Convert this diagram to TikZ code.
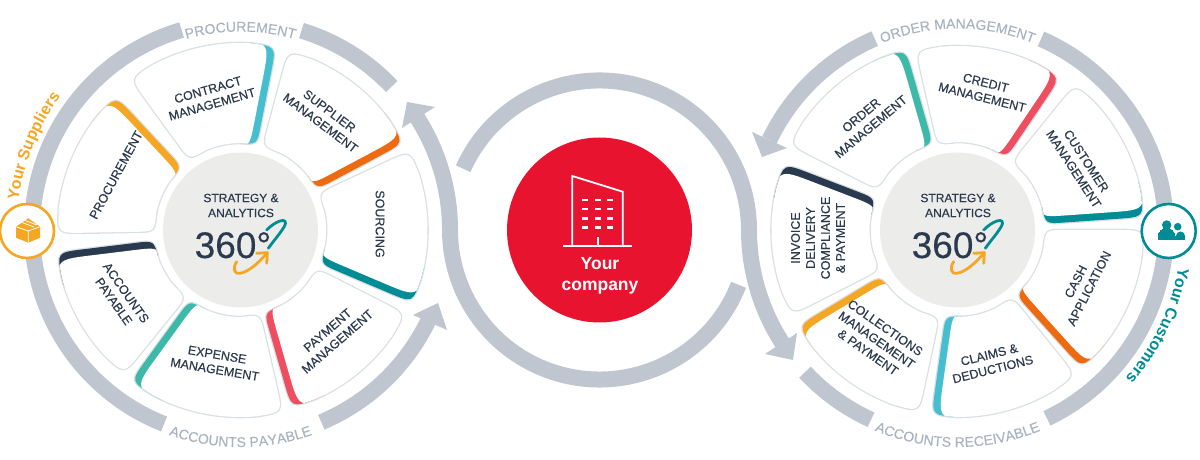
\documentclass[tikz,border=0pt]{standalone}
\usepackage{fontspec}
\setmainfont{Liberation Sans}
\newfontfamily\medf[FakeBold=0.3]{Liberation Sans}
\newfontfamily\lightf[FakeBold=0.15]{Liberation Sans}
\usetikzlibrary{decorations.text}
\definecolor{ringc}{HTML}{BFC6CF}
\definecolor{ringtext}{HTML}{A9B3BF}
\definecolor{inkc}{HTML}{2C3A4E}
\definecolor{borderc}{HTML}{D9E0E4}
\definecolor{diskc}{HTML}{ECECEA}
\definecolor{cyanc}{HTML}{45BFD0}
\definecolor{amberc}{HTML}{F5A623}
\definecolor{orangec}{HTML}{EE6A10}
\definecolor{tealc}{HTML}{008C95}
\definecolor{pinkc}{HTML}{EE4E60}
\definecolor{greenc}{HTML}{3DB9A9}
\definecolor{navyc}{HTML}{2A3A4E}
\definecolor{redc}{HTML}{E8142F}
\tikzset{
  ringarc/.style={draw=ringc,line width=16pt,line cap=butt},
  headtip/.style={fill=ringc},
  petaltext/.style={font=\medf\fontsize{12.5}{15}\selectfont,align=center,text=inkc,inner sep=0pt},
  hubtext/.style={font=\medf\fontsize{12}{15}\selectfont,align=center,text=inkc,inner sep=0pt},
  bigtext/.style={font=\medf\fontsize{37}{37}\selectfont,text=inkc,inner sep=0pt,anchor=base west},
  hubdisk/.style={circle,fill=diskc,minimum size=155pt,inner sep=0pt},
  swoosh/.style={line width=2.8pt,line cap=round,line join=round},
}
% petal outline: angles a1,a2, radii ro,ri, corner sizes #5 (outer) and #6 (inner)
\newcommand\petalpath[6]{%
  \pgfmathsetmacro\oa{#1+#5/#3*57.3}\pgfmathsetmacro\ob{#2-#5/#3*57.3}%
  \pgfmathsetmacro\ia{#1+#6/#4*57.3}\pgfmathsetmacro\ib{#2-#6/#4*57.3}%
  \pgfmathsetmacro\rp{#3-#5}\pgfmathsetmacro\rq{#4+#6}%
  \path[petalstyle] (\oa:#3) arc (\oa:\ob:#3) .. controls (#2:#3) .. (#2:\rp) -- (#2:\rq)
    .. controls (#2:#4) .. (\ib:#4) arc (\ib:\ia:#4) .. controls (#1:#4) .. (#1:\rq) -- (#1:\rp)
    .. controls (#1:#3) .. (\oa:#3) -- cycle;}
\newcommand\petal[5]{%
  \tikzset{petalstyle/.style={draw=borderc,line width=2.6pt,fill=white}}\petalpath{#1}{#2}{#3}{#4}{26}{19}
  \begin{scope}
    \tikzset{petalstyle/.style={clip}}\petalpath{#1}{#2}{#3}{#4}{26}{19}
    \pgfmathsetmacro\wa{#1-9}\pgfmathsetmacro\wb{#1+11}%
    \fill[#5] (0,0) -- (\wa:240) -- (\wb:240) -- cycle;
    \begin{scope}[shift={({#1+90}:7)}]
      \pgfmathsetmacro\whiteo{#3+2.5}\pgfmathsetmacro\whitei{#4-5}%
      \tikzset{petalstyle/.style={fill=white}}\petalpath{#1}{#2}{\whiteo}{\whitei}{36}{26}
    \end{scope}
  \end{scope}}
\newcommand\curved[5]{% radius, from, to, format, text
  \path[decorate,decoration={text along path,text align=center,text={|#4|#5}}] (#2:#1) arc (#2:#3:#1);}
\newcommand\hubmark{%
  \draw[tealc,swoosh] (27.8,-18.3) .. controls (33,-11) and (40,-3) .. (43.5,3) .. controls (47,9) and (44,10.5) .. (39.5,9) .. controls (35,7.5) and (30,4) .. (26.2,0);
  \draw[amberc,swoosh] (-3.8,-31.7) .. controls (-8,-38) and (-7,-44) .. (-0.5,-43.3) .. controls (8,-42) and (18,-33) .. (26.8,-22.7);
  \draw[amberc,swoosh] (16.2,-23.3) -- (26.8,-22.7) -- (26.2,-33.3);}
\begin{document}
\begin{tikzpicture}[x=1pt,y=1pt]
\useasboundingbox (0,0) rectangle (1200,460);
\coordinate (lc) at (240.5,230);
\coordinate (rc) at (957.5,230);
\coordinate (mc) at (599.5,230);

% central S-shaped arrows
\draw[ringarc] ([shift={(155.8:149.5)}]mc) arc (155.8:0:149.5) arc (180:213:208.5);
\draw[ringarc] ([shift={(-21.5:149.5)}]mc) arc (-21.5:-180:149.5) arc (0:33:208.5);
\fill[headtip] (793,100) -- (765,106) -- (797,127) -- cycle;
\fill[headtip] (407,358) -- (435,353) -- (402,332) -- cycle;

% left wheel
\begin{scope}[shift={(240.5,230)}]
  \draw[ringarc] (180:208.5) arc (180:106.4:208.5);
  \draw[ringarc] (73:208.5) arc (73:43.5:208.5);
  \draw[ringarc] (180:208.5) arc (180:248.5:208.5);
  \draw[ringarc] (292.8:208.5) arc (292.8:334.1:208.5);
  \petal{79}{126}{187}{87}{cyanc}
  \petal{28}{75}{185}{87}{orangec}
  \petal{-23}{25}{187}{87}{tealc}
  \petal{-74}{-27}{185}{86}{pinkc}
  \petal{-126}{-77}{187}{87}{greenc}
  \petal{187}{231}{185}{87}{navyc}
  \petal{133}{181}{183}{86}{amberc}
  \curved{198.5}{125}{55}{\lightf\fontsize{14}{14}\selectfont\color{ringtext}}{PROCUREMENT}
  \curved{217}{230}{310}{\lightf\fontsize{14}{14}\selectfont\color{ringtext}}{ACCOUNTS PAYABLE}
  \curved{224}{190}{126}{\bfseries\fontsize{16}{16}\selectfont\color{amberc}}{Your Suppliers}
\end{scope}
\fill[headtip] (438,157) -- (447,130) -- (413,145) -- cycle;

% right wheel
\begin{scope}[shift={(957.5,230)}]
  \draw[ringarc] (0:208.5) arc (0:66.4:208.5);
  \draw[ringarc] (113.4:208.5) arc (113.4:154.4:208.5);
  \draw[ringarc] (0:208.5) arc (0:-64.6:208.5);
  \draw[ringarc] (245.5:208.5) arc (245.5:223:208.5);
  \petal{106}{153}{188}{90}{greenc}
  \petal{56}{103}{184}{88}{pinkc}
  \petal{4}{51}{187}{88}{tealc}
  \petal{-48}{0}{186}{88}{orangec}
  \petal{-98}{-51}{187}{87}{cyanc}
  \petal{211}{258}{186}{90}{amberc}
  \petal{159}{207}{186}{88}{navyc}
  \curved{201.5}{130}{50}{\lightf\fontsize{14}{14}\selectfont\color{ringtext}}{ORDER MANAGEMENT}
  \curved{217}{225}{315}{\lightf\fontsize{14}{14}\selectfont\color{ringtext}}{ACCOUNTS RECEIVABLE}
  \curved{224}{15}{-66}{\bfseries\fontsize{16}{16}\selectfont\color{tealc}}{Your Customers}
\end{scope}
\fill[headtip] (762,303) -- (752,328) -- (787,312) -- cycle;

% hubs
\node[hubdisk] (lhub) at (lc) {};
\node[hubdisk] (rhub) at (rc) {};
\node[hubtext] (lstrat) at (241,254.5) {STRATEGY \&\\ANALYTICS};
\node[hubtext] (rstrat) at (958,254.5) {STRATEGY \&\\ANALYTICS};
\node[bigtext] (l360) at (194.5,202) {360°};
\node[bigtext] (r360) at (911.5,202) {360°};
\begin{scope}[shift={(240.5,230)}]\hubmark\end{scope}
\begin{scope}[shift={(957.5,230)}]\hubmark\end{scope}

% petal labels, left
\node[petaltext,rotate=16] (t1) at (210,363) {CONTRACT\\MANAGEMENT};
\node[petaltext,rotate=-37] (t2) at (325,343) {SUPPLIER\\MANAGEMENT};
\node[petaltext,rotate=-90] (t3) at (380,236) {SOURCING};
\node[petaltext,rotate=41] (t4) at (332.5,124) {PAYMENT\\MANAGEMENT};
\node[petaltext,rotate=-9.5] (t5) at (216,98) {EXPENSE\\MANAGEMENT};
\node[petaltext,rotate=-55] (t6) at (120,163) {ACCOUNTS\\PAYABLE};
\node[petaltext,rotate=61.6] (t7) at (116,285) {PROCUREMENT};
% petal labels, right
\node[petaltext,rotate=40] (u1) at (866,339) {ORDER\\MANAGEMENT};
\node[petaltext,rotate=-14] (u2) at (984,370) {CREDIT\\MANAGEMENT};
\node[petaltext,rotate=-57] (u3) at (1080,295) {CUSTOMER\\MANAGEMENT};
\node[petaltext,rotate=63] (u4) at (1082.4,175) {CASH\\APPLICATION};
\node[petaltext,rotate=14] (u5) at (991,98) {CLAIMS \&\\DEDUCTIONS};
\node[petaltext,rotate=-35] (u6) at (876.7,120) {COLLECTIONS\\MANAGEMENT\\\& PAYMENT};
\node[petaltext,rotate=90] (u7) at (818,222) {INVOICE\\DELIVERY\\COMPLIANCE\\\& PAYMENT};

% company
\node[circle,fill=redc,minimum size=185pt,inner sep=0pt] (company) at (mc) {};
\draw[white,line width=1.8pt] (563.3,214.3) -- (631.7,214.3);
\draw[white,line width=1.8pt] (572.3,214.3) -- (572.3,284) -- (622.7,268.3) -- (622.7,214.3);
\draw[white,line width=1.8pt] (597.7,214.3) -- (597.7,223.3);
\foreach \wy in {260,251,241.7,232.3}
  \foreach \wx in {585.3,598,610.3}
    \fill[white] (\wx-3,\wy-1.4) rectangle (\wx+3,\wy+1.4);
\node[font=\bfseries\fontsize{17.5}{21}\selectfont,align=center,text=white,inner sep=0pt] (cname) at (600,184) {Your\\company};

% side icons
\node[circle,draw=amberc,line width=2.6pt,fill=white,minimum size=54pt,inner sep=0pt] (sup) at (27,229) {};
\fill[amberc] (28.3,241.7) -- (40,233.3) -- (40,222.3) -- (28.3,217.3) -- (16,222.3) -- (16,233.3) -- cycle;
\draw[white,line width=0.8pt] (16,233.3) -- (28.3,229) -- (40,233.3) (28.3,229) -- (28.3,217.3) (22,237.5) -- (34,233) (25,239.5) -- (37,235);
\node[circle,draw=tealc,line width=2.6pt,fill=white,minimum size=54pt,inner sep=0pt] (cus) at (1168.7,229) {};
\fill[tealc] (1177.7,233.3) circle (3.8);
\fill[tealc] (1176,220) -- (1176,224) arc (180:0:4.5) -- (1185,220) -- cycle;
\fill[white] (1166.7,235) circle (5.6);
\fill[tealc] (1166.7,235) circle (4.7);
\draw[tealc,fill=tealc,line width=0pt] (1158.3,220) -- (1158.3,223.5) arc (180:0:8.35) -- (1175,220) -- cycle;
\end{tikzpicture}
\end{document}
